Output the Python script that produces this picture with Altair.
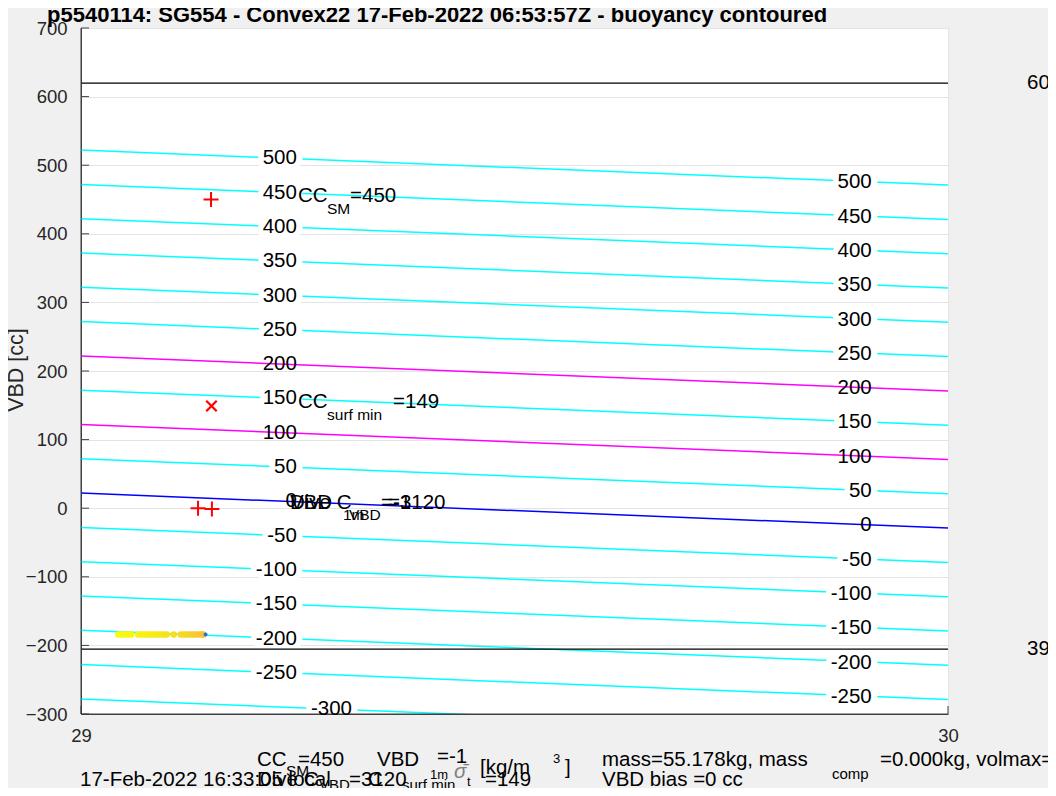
import altair as alt
import pandas as pd

FONT = "Liberation Sans"
FS = 20.5

# ---------------- data ----------------
levels = [500, 450, 400, 350, 300, 250, 200, 150, 100, 50, 0,
          -50, -100, -150, -200, -250, -300]
magenta_levels = [200, 100]
blue_levels = [0]
vbd_shift_left = 22      # contour value -> VBD at x = 29
vbd_shift_right = -29    # contour value -> VBD at x = 30

left_label_levels = [500, 450, 400, 350, 300, 250, 200, 150, 100, 50, 0,
                     -50, -100, -150, -200, -250, -300]
left_label_x = [29.249] * 16 + [29.3126]
left_label_vbd = [510, 460, 410, 360, 310, 260, 210, 160, 110, 60, 10,
                  -40, -90, -140, -190, -240, -293]
right_label_levels = [500, 450, 400, 350, 300, 250, 200, 150, 100, 50, 0,
                      -50, -100, -150, -200, -250]
right_label_x = 29.912
right_label_vbd = [475, 425, 375, 325, 275, 225, 175, 125, 75, 25, -25,
                   -75, -125, -175, -225, -275]

limit_vbd = [619.5, -205.5]
limit_text = ["60", "39"]

plus_x = [29.150, 29.135, 29.151]
plus_y = [450, 0, -1]
cross_x = [29.1505]
cross_y = [149]

yellow_x = [29.043, 29.046, 29.049, 29.052, 29.055, 29.058, 29.066, 29.069,
            29.072, 29.075, 29.078, 29.081, 29.084, 29.087, 29.090, 29.093,
            29.096, 29.099, 29.107, 29.115, 29.118, 29.121, 29.124, 29.127,
            29.130, 29.133, 29.136, 29.139, 29.141]
yellow_y = [-184, -184, -184, -184, -184, -184, -184, -184, -184, -184,
            -184, -184, -184, -184, -184, -184, -184, -184, -184, -184,
            -184, -184, -184, -184, -184, -184, -184, -184, -184]
yellow_c = [0.00, 0.02, 0.04, 0.06, 0.08, 0.10, 0.14, 0.17, 0.20, 0.23,
            0.26, 0.29, 0.32, 0.35, 0.38, 0.41, 0.44, 0.47, 0.53, 0.60,
            0.64, 0.68, 0.72, 0.76, 0.80, 0.85, 0.90, 0.95, 1.00]
blue_dot_x = [29.1437]
blue_dot_y = [-184]

y_ticks = [700, 600, 500, 400, 300, 200, 100, 0, -100, -200, -300]
x_ticks = [29, 30]

TITLE = "p5540114: SG554 - Convex22 17-Feb-2022 06:53:57Z - buoyancy contoured"
YTITLE = "VBD [cc]"

# ---------------- tables ----------------
line_rows = []
for L in levels:
    kind = "magenta" if L in magenta_levels else ("blue" if L in blue_levels else "cyan")
    line_rows.append({"level": L, "x": 29, "y": L + vbd_shift_left, "kind": kind})
    line_rows.append({"level": L, "x": 30, "y": L + vbd_shift_right, "kind": kind})
lines = pd.DataFrame(line_rows)

left_labels = pd.DataFrame({"x": left_label_x, "y": left_label_vbd,
                            "t": [str(v) for v in left_label_levels],
                            "level": left_label_levels})
right_labels = pd.DataFrame({"x": [right_label_x] * len(right_label_levels),
                             "y": right_label_vbd,
                             "t": [str(v) for v in right_label_levels],
                             "level": right_label_levels})
special = magenta_levels + blue_levels

xs = alt.Scale(domain=[29, 30], nice=False, zero=False)
ys = alt.Scale(domain=[-300, 700], nice=False, zero=False)
X = alt.X("x:Q", scale=xs, axis=alt.Axis(values=x_ticks, format="d", title=None,
          grid=True, gridColor="#e4e4e4", ticks=False, tickSize=0,
          domainColor="#404040", labelFont=FONT, labelFontSize=18.5,
          labelColor="#262626", labelPadding=12, labelFlush=False))
Y = alt.Y("y:Q", scale=ys, axis=alt.Axis(values=y_ticks, format="d", title=None,
          grid=True, gridColor="#e4e4e4", ticks=False, tickSize=0,
          domainColor="#404040", labelFont=FONT, labelFontSize=18.5,
          labelColor="#262626", labelPadding=14, labelOverlap=False))

layers = []

cyan = alt.Chart(lines[lines.kind == "cyan"]).mark_line(
    clip=True, color="#00ffff", strokeWidth=1.5).encode(x=X, y=Y, detail="level:N")
layers.append(cyan)

for df in (left_labels, right_labels):
    halo = alt.Chart(df[~df.level.isin(special)]).mark_text(
        align="right", baseline="middle", font=FONT, fontSize=FS, color="white",
        stroke="white", strokeWidth=12, strokeJoin="round", clip=True).encode(
        x=X, y=Y, text="t:N")
    layers.append(halo)

for kind, col in (("magenta", "#ff00ff"), ("blue", "#0000ff")):
    layers.append(alt.Chart(lines[lines.kind == kind]).mark_line(
        clip=True, color=col, strokeWidth=1.5).encode(x=X, y=Y, detail="level:N"))

limits = pd.DataFrame({"y": limit_vbd, "t": limit_text})
layers.append(alt.Chart(limits).mark_rule(color="black", strokeWidth=1.3).encode(
    y=Y, x=alt.value(0), x2=alt.value(867)))
layers.append(alt.Chart(limits).mark_text(
    align="left", baseline="middle", font=FONT, fontSize=FS, color="black").encode(
    y=Y, x=alt.value(946), text="t:N"))

# axis lines drawn above the label halos
layers.append(alt.Chart(pd.DataFrame({"y": [-300]})).mark_rule(
    color="#404040", strokeWidth=1).encode(y=Y, x=alt.value(0), x2=alt.value(867)))
layers.append(alt.Chart(pd.DataFrame({"x": [29]})).mark_rule(
    color="#404040", strokeWidth=1).encode(x=X, y=alt.value(0), y2=alt.value(686)))

for df in (left_labels, right_labels):
    layers.append(alt.Chart(df).mark_text(
        align="right", baseline="middle", font=FONT, fontSize=FS, color="black").encode(
        x=X, y=Y, text="t:N"))

yel = pd.DataFrame({"x": yellow_x, "y": yellow_y, "c": yellow_c})
layers.append(alt.Chart(yel).mark_circle(size=42, opacity=1).encode(
    x=X, y=Y, color=alt.Color("c:Q", legend=None,
                              scale=alt.Scale(domain=[0, 1], range=["#f9fb0e", "#f5e21c", "#f7c232"]))))
layers.append(alt.Chart(pd.DataFrame({"x": blue_dot_x, "y": blue_dot_y})).mark_circle(
    size=16, opacity=1, color="#2f6fd6").encode(x=X, y=Y))

layers.append(alt.Chart(pd.DataFrame({"x": plus_x, "y": plus_y})).mark_point(
    shape="M-1,0H1M0,-1V1", size=225, strokeWidth=2, color="#ff0000", filled=False,
    opacity=1).encode(x=X, y=Y))
layers.append(alt.Chart(pd.DataFrame({"x": cross_x, "y": cross_y})).mark_point(
    shape="M-1,-1L1,1M-1,1L1,-1", size=110, strokeWidth=2.2, color="#ff0000",
    filled=False, opacity=1).encode(x=X, y=Y))


def txt(s, x, y, size=FS, dx=0, dy=0, color="black", align="left",
        baseline="middle", **kw):
    return alt.Chart(pd.DataFrame({"t": [s]})).mark_text(
        align=align, baseline=baseline, font=FONT, fontSize=size, color=color,
        dx=dx, dy=dy, **kw).encode(text="t:N", x=x, y=y)


# in-plot annotations
ax_cc = alt.datum(29.2503)
layers += [
    txt("CC", ax_cc, alt.datum(450), dy=-4),
    txt("SM", ax_cc, alt.datum(450), size=15.5, dx=29, dy=9),
    txt("=450", ax_cc, alt.datum(450), dx=52, dy=-4),
    txt("CC", ax_cc, alt.datum(149), dy=-4),
    txt("surf min", ax_cc, alt.datum(149), size=15.5, dx=29, dy=9),
    txt("=149", ax_cc, alt.datum(149), dx=95, dy=-4),
]
ax_v = alt.datum(29.241)
layers += [
    txt("VBD", ax_v, alt.datum(0), dy=-5),
    txt("Dive C", ax_v, alt.datum(0), dy=-5),
    txt("1m", ax_v, alt.datum(0), size=15.5, dx=53, dy=7),
    txt("VBD", ax_v, alt.datum(0), size=15.5, dx=59, dy=7),
    txt("=-1", ax_v, alt.datum(0), dx=91, dy=-5),
    txt("=3120", ax_v, alt.datum(0), dx=98, dy=-5),
]

V = alt.value
# title and y title
layers += [
    txt(TITLE, V(-34), V(-6), size=22, baseline="alphabetic", fontWeight="bold"),
    txt(YTITLE, V(-64), V(342), size=21.5, align="center", angle=270, color="#262626"),
]
# bottom text block
layers += [
    txt("CC", V(176), V(732)),
    txt("SM", V(205), V(743), size=15.5),
    txt("=450", V(217), V(732)),
    txt("VBD", V(296), V(732)),
    txt("1m", V(349), V(747), size=13),
    txt("=-1", V(356), V(729)),
    txt("\u03c3\u0304", V(373), V(744), color="#7f7f7f", fontStyle="italic"),
    txt("t", V(386), V(754), size=13),
    txt("[kg/m", V(399), V(740)),
    txt("3", V(472), V(731), size=13),
    txt("]", V(484), V(740)),
    txt("mass=55.178kg, mass", V(521), V(732)),
    txt("comp", V(751), V(746), size=15),
    txt("=0.000kg, volmax=5", V(799), V(732)),
    txt("17-Feb-2022 16:33:05 local", V(-1), V(752)),
    txt("Dive C", V(176), V(752)),
    txt("VBD", V(238), V(757), size=15),
    txt("=3120", V(268), V(752)),
    txt("C", V(287), V(752)),
    txt("surf min", V(321), V(757), size=15),
    txt("=149", V(404), V(752)),
    txt("VBD bias =0 cc", V(521), V(752)),
]

# inward tick marks
layers.append(alt.Chart(pd.DataFrame({"y": y_ticks})).mark_rule(
    color="#404040", strokeWidth=1).encode(y=Y, x=V(0), x2=V(8)))
layers.append(alt.Chart(pd.DataFrame({"x": x_ticks})).mark_rule(
    color="#404040", strokeWidth=1).encode(x=X, y=V(686), y2=V(678)))

chart = alt.layer(*layers).properties(
    width=867, height=686,
    autosize=alt.AutoSizeParams(type="none"),
    padding={"left": 73, "top": 20, "right": 100, "bottom": 74},
    background="#f0f0f0",
).configure_view(fill="white", stroke="#e4e4e4")

chart.save("out.html", embed_options={"renderer": "svg", "actions": False})
